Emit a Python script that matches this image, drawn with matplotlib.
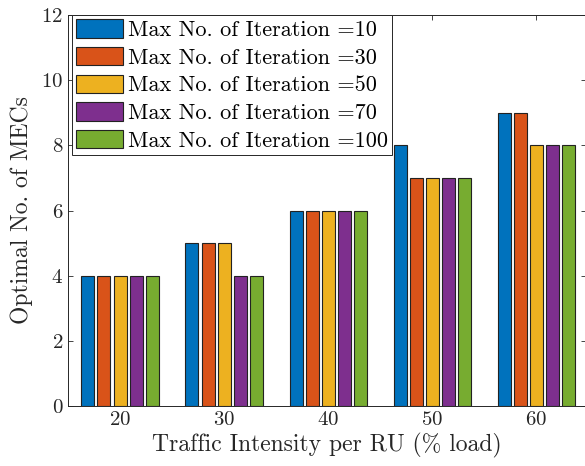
import numpy as np
import matplotlib.pyplot as plt

plt.rcParams['font.family'] = 'serif'
plt.rcParams['font.serif'] = ['cmr10', 'DejaVu Serif']
plt.rcParams['mathtext.fontset'] = 'cm'
plt.rcParams['axes.formatter.use_mathtext'] = True

loads = [20, 30, 40, 50, 60]
iters = [10, 30, 50, 70, 100]
mecs = [
    [4, 5, 6, 8, 9],   # 10
    [4, 5, 6, 7, 9],   # 30
    [4, 5, 6, 7, 8],   # 50
    [4, 4, 6, 7, 8],   # 70
    [4, 4, 6, 7, 8],   # 100
]
colors = ['#0072BD', '#D95319', '#EDB120', '#7E2F8E', '#77AC30']

fig = plt.figure(figsize=(5.85, 4.66), dpi=100)
# right spine sits just past the image edge, as in the reference
ax = fig.add_axes([68/585, 60/466, 518/585, 391/466])

x = np.array(loads, dtype=float)
pitch = 1.54
width = 1.25
for i, (it, vals) in enumerate(zip(iters, mecs)):
    off = (i - 2) * pitch
    ax.bar(x + off, vals, width=width, color=colors[i], edgecolor='#222222',
           linewidth=0.8, label='Max No. of Iteration =' + str(it), zorder=3)

ax.set_xlim(15.0, 64.8)
ax.set_ylim(0, 12)
ax.set_xticks(loads)
ax.set_yticks(range(0, 13, 2))
ax.tick_params(direction='in', top=True, right=True, labelsize=15, length=3.8,
               color='#262626', width=0.6, labelcolor='#262626')
for s in ax.spines.values():
    s.set_color('#262626')
    s.set_linewidth(0.7)
ax.set_xlabel('Traffic Intensity per RU (% load)', fontsize=17, color='#262626',
              labelpad=3)
ax.set_ylabel('Optimal No. of MECs', fontsize=17, color='#262626', labelpad=6)

leg = ax.legend(loc='upper left', bbox_to_anchor=(4/518, 1.0), fontsize=16,
                fancybox=False, framealpha=1, edgecolor='#262626',
                borderpad=0.2, labelspacing=0.3, handlelength=2.1,
                handleheight=0.9, handletextpad=0.22, borderaxespad=0)
leg.get_frame().set_linewidth(0.7)

fig.savefig('out.png', dpi=100)
